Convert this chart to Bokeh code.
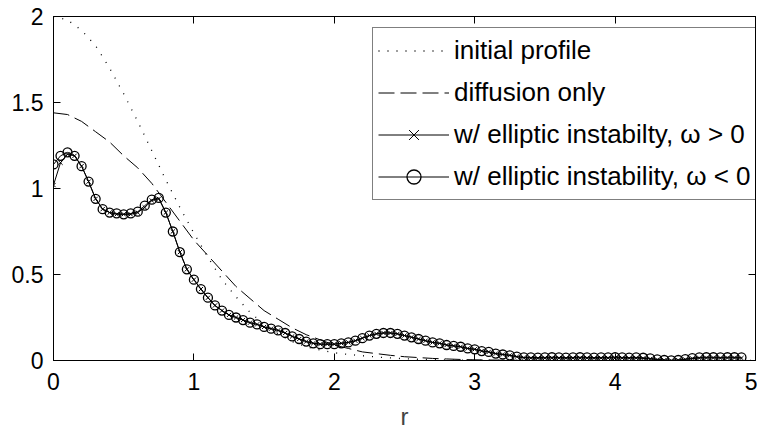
from bokeh.plotting import figure
from bokeh.models import Range1d, LinearAxis, FixedTicker, Legend
from bokeh.embed import file_html
from bokeh.resources import INLINE

# ---- data ----
r_smooth = [0.0, 0.1, 0.2, 0.3, 0.4, 0.5, 0.6, 0.7, 0.8, 0.9,
            1.0, 1.1, 1.2, 1.3, 1.4, 1.5, 1.6, 1.7, 1.8, 1.9,
            2.0, 2.1, 2.2, 2.3, 2.4, 2.5, 2.6, 2.7, 2.8, 2.9,
            3.0, 3.2, 3.5, 4.0, 4.5, 5.0]
initial_profile = [2.00, 1.98, 1.92, 1.83, 1.70, 1.55, 1.39, 1.22, 1.05, 0.89,
                   0.74, 0.60, 0.47, 0.37, 0.28, 0.21, 0.155, 0.11, 0.08, 0.06,
                   0.045, 0.035, 0.028, 0.02, 0.015, 0.01, 0.007, 0.005, 0.003, 0.002,
                   0.001, 0.0, 0.0, 0.0, 0.0, 0.0]
diffusion_only = [1.44, 1.43, 1.39, 1.33, 1.27, 1.19, 1.12, 1.03, 0.92, 0.81,
                  0.70, 0.61, 0.52, 0.43, 0.36, 0.29, 0.24, 0.19, 0.15, 0.12,
                  0.09, 0.07, 0.05, 0.04, 0.03, 0.022, 0.017, 0.012, 0.009, 0.006,
                  0.004, 0.002, 0.0, 0.0, 0.0, 0.0]

r_pts = [0.00, 0.05, 0.10, 0.15, 0.20, 0.25, 0.30, 0.35, 0.40, 0.45,
         0.50, 0.55, 0.60, 0.65, 0.70, 0.75, 0.80, 0.85, 0.90, 0.95,
         1.00, 1.05, 1.10, 1.15, 1.20, 1.25, 1.30, 1.35, 1.40, 1.45,
         1.50, 1.55, 1.60, 1.65, 1.70, 1.75, 1.80, 1.85, 1.90, 1.95,
         2.00, 2.05, 2.10, 2.15, 2.20, 2.25, 2.30, 2.35, 2.40, 2.45,
         2.50, 2.55, 2.60, 2.65, 2.70, 2.75, 2.80, 2.85, 2.90, 2.95,
         3.00, 3.05, 3.10, 3.15, 3.20, 3.25, 3.30, 3.35, 3.40, 3.45,
         3.50, 3.55, 3.60, 3.65, 3.70, 3.75, 3.80, 3.85, 3.90, 3.95,
         4.00, 4.05, 4.10, 4.15, 4.20, 4.25, 4.30, 4.35, 4.40, 4.45,
         4.50, 4.55, 4.60, 4.65, 4.70, 4.75, 4.80, 4.85, 4.90]
omega_neg = [1.14, 1.19, 1.21, 1.19, 1.13, 1.04, 0.94, 0.88, 0.86, 0.855,
             0.85, 0.855, 0.865, 0.90, 0.935, 0.945, 0.86, 0.75, 0.63, 0.53,
             0.47, 0.415, 0.365, 0.32, 0.29, 0.265, 0.25, 0.235, 0.22, 0.21,
             0.195, 0.185, 0.175, 0.16, 0.14, 0.125, 0.11, 0.10, 0.095, 0.095,
             0.095, 0.10, 0.105, 0.115, 0.13, 0.145, 0.155, 0.16, 0.16, 0.155,
             0.145, 0.135, 0.125, 0.115, 0.105, 0.10, 0.09, 0.085, 0.08, 0.07,
             0.065, 0.055, 0.05, 0.04, 0.035, 0.03, 0.022, 0.018, 0.018, 0.017,
             0.018, 0.019, 0.018, 0.017, 0.018, 0.019, 0.018, 0.017, 0.018, 0.018,
             0.019, 0.018, 0.017, 0.018, 0.016, 0.012, 0.007, 0.003, 0.001, 0.003,
             0.008, 0.014, 0.018, 0.019, 0.019, 0.018, 0.019, 0.019, 0.018]
omega_pos = [1.02, 1.15, 1.20, 1.19, 1.13, 1.04, 0.94, 0.88, 0.86, 0.85,
             0.85, 0.85, 0.86, 0.89, 0.93, 0.94, 0.86, 0.75, 0.63, 0.53,
             0.47, 0.415, 0.365, 0.32, 0.29, 0.265, 0.25, 0.235, 0.22, 0.21,
             0.195, 0.185, 0.175, 0.16, 0.14, 0.125, 0.11, 0.10, 0.095, 0.095,
             0.095, 0.10, 0.105, 0.115, 0.13, 0.145, 0.155, 0.16, 0.16, 0.155,
             0.145, 0.135, 0.125, 0.115, 0.105, 0.10, 0.09, 0.085, 0.08, 0.07,
             0.065, 0.055, 0.05, 0.04, 0.035, 0.03, 0.022, 0.016, 0.014, 0.013,
             0.014, 0.015, 0.014, 0.013, 0.014, 0.015, 0.014, 0.013, 0.014, 0.014,
             0.015, 0.014, 0.013, 0.014, 0.012, 0.009, 0.005, 0.002, 0.0, 0.002,
             0.006, 0.011, 0.014, 0.015, 0.015, 0.014, 0.015, 0.015, 0.014]

x_ticks = [0, 1, 2, 3, 4, 5]
x_tick_labels = ["0", "1", "2", "3", "4", "5"]
y_ticks = [0, 0.5, 1, 1.5, 2]
y_tick_labels = ["0", "0.5", "1", "1.5", "2"]
x_title = "r"

labels = ["initial profile", "diffusion only",
          "w/ elliptic instabilty, \u03c9 > 0", "w/ elliptic instability, \u03c9 < 0"]

FONT = "Liberation Sans"

p = figure(width=757, height=432, output_backend="svg", toolbar_location=None,
           x_range=Range1d(0, 5), y_range=Range1d(0, 2),
           min_border_left=53, min_border_right=2, min_border_top=16,
           min_border_bottom=72, x_axis_label=x_title)
p.grid.visible = False
p.outline_line_color = "black"
p.background_fill_color = "white"
p.border_fill_color = "white"

# lines
r1 = p.line(r_smooth, initial_profile, line_color="black", line_width=1.3, line_dash="1 8")
r2 = p.line(r_smooth, diffusion_only, line_color="black", line_width=1, line_dash="16 6")
r3a = p.line(r_pts, omega_pos, line_color="black", line_width=1)
r3b = p.scatter(r_pts, omega_pos, marker="x", size=6, line_color="black", line_width=1)
r4a = p.line(r_pts, omega_neg, line_color="black", line_width=1)
r4b = p.scatter(r_pts, omega_neg, marker="circle", size=9, fill_color=None,
                line_color="black", line_width=1.3)

def style_axis(ax, ticks, overrides, show_labels=True):
    ax.ticker = FixedTicker(ticks=ticks)
    ax.major_label_overrides = overrides
    ax.axis_line_color = "black"
    ax.axis_line_width = 1
    ax.major_tick_line_color = "black"
    ax.major_tick_in = 7
    ax.major_tick_out = 0
    ax.minor_tick_line_color = None
    ax.major_label_text_font = FONT
    ax.major_label_text_color = "black"
    if show_labels:
        ax.major_label_text_font_size = "23px"
    else:
        ax.major_label_text_font_size = "0px"
        ax.major_label_standoff = 0

xo = {t: l for t, l in zip(x_ticks, x_tick_labels)}
yo = {t: l for t, l in zip(y_ticks, y_tick_labels)}

style_axis(p.xaxis[0], x_ticks, xo)
p.xaxis[0].major_label_standoff = 12
p.xaxis[0].axis_label_text_font = FONT
p.xaxis[0].axis_label_text_font_size = "24px"
p.xaxis[0].axis_label_text_font_style = "normal"
p.xaxis[0].axis_label_standoff = 10
style_axis(p.yaxis[0], y_ticks, yo)
p.yaxis[0].major_label_standoff = 10

top_ax = LinearAxis()
style_axis(top_ax, x_ticks, {t: "" for t in x_ticks}, show_labels=False)
p.add_layout(top_ax, "above")
right_ax = LinearAxis()
style_axis(right_ax, y_ticks, {t: "" for t in y_ticks}, show_labels=False)
p.add_layout(right_ax, "right")

legend = Legend(items=[(labels[0], [r1]), (labels[1], [r2]),
                       (labels[2], [r3a, r3b]), (labels[3], [r4a, r4b])],
                location=(319, 160))
legend.margin = 0
legend.padding = 5
legend.spacing = 7
legend.label_height = 35
legend.glyph_height = 35
legend.glyph_width = 71
legend.label_standoff = 5
legend.label_text_font = FONT
legend.label_text_font_size = "26px"
legend.label_text_color = "black"
legend.border_line_color = "black"
legend.border_line_width = 1
legend.background_fill_color = "white"
legend.background_fill_alpha = 1
p.add_layout(legend, "center")

open("out.html", "w").write(file_html(p, INLINE))
